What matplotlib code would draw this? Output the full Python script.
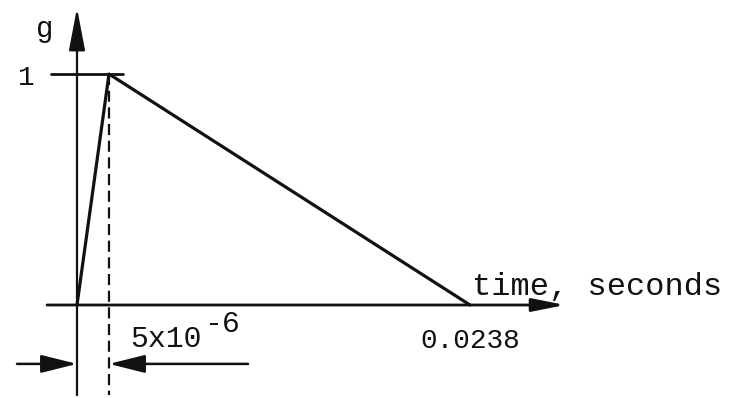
import matplotlib
matplotlib.use('Agg')

import numpy as np
import matplotlib.pyplot as plt

# acceleration pulse: linear rise to peak, linear decay to zero
times = [0.0, 5e-6, 0.0238]      # seconds
accel = [0.0, 1.0, 0.0]          # g
rise_label = ["5x10", "-6"]
end_label = "0.0238"
peak_label = "1"
y_label = "g"
x_label = "time, seconds"

T_RISE = times[1]
T_END = times[2]

# the rise is far too short to show to scale, so stretch it with a piecewise scale
RISE_W = 32.0
FALL_W = 361.0


def fwd(t):
    t = np.asarray(t, dtype=float)
    return np.where(t <= T_RISE, t / T_RISE * RISE_W,
                    RISE_W + (t - T_RISE) / (T_END - T_RISE) * FALL_W)


def inv(u):
    u = np.asarray(u, dtype=float)
    return np.where(u <= RISE_W, u / RISE_W * T_RISE,
                    T_RISE + (u - RISE_W) / FALL_W * (T_END - T_RISE))


def tx(u):
    return float(inv(u))


fig = plt.figure(figsize=(7.43, 3.98), dpi=100)
ax = fig.add_axes([0, 0, 1, 1])
ax.set_xscale('function', functions=(fwd, inv))
ax.set_xlim(tx(-77), tx(666))
ax.set_ylim(-93 / 231.0, 305 / 231.0)
ax.axis('off')

mono = 'Liberation Mono'
ink = '#111111'

# pulse
ax.plot(times, accel, color=ink, lw=2.3, solid_capstyle='round')

# axes with arrow heads
head = dict(arrowstyle='-|>,head_length=1.05,head_width=0.2', mutation_scale=25,
            color=ink, lw=1.6, shrinkA=0, shrinkB=0)
ax.annotate('', xy=(0, 1.286), xytext=(0, -0.39), arrowprops=head)
head_x = dict(arrowstyle='-|>,head_length=1.0,head_width=0.2', mutation_scale=20,
              color=ink, lw=2.0, shrinkA=0, shrinkB=0)
ax.annotate('', xy=(tx(488), 0), xytext=(tx(-30), 0), arrowprops=head_x)

# peak level tick
ax.plot([tx(-26), tx(46)], [accel[1], accel[1]], color=ink, lw=2.0,
        solid_capstyle='round')

# dashed marker at end of rise
ax.plot([times[1], times[1]], [accel[1], -0.39], color=ink, lw=1.6,
        dashes=(5, 2.5))

# rise time dimension arrows
y_dim = -0.255
dim = dict(arrowstyle='-|>,head_length=1.0,head_width=0.25', mutation_scale=22,
           color=ink, lw=1.8, shrinkA=0, shrinkB=0)
ax.annotate('', xy=(times[0], y_dim), xytext=(tx(-60), y_dim), arrowprops=dim)
ax.annotate('', xy=(times[1], y_dim), xytext=(tx(171), y_dim), arrowprops=dim)

# labels
ax.text(tx(-32), 1.16, y_label, family=mono, fontsize=21, color=ink,
        ha='center', va='baseline')
ax.text(tx(-51), 0.952, peak_label, family=mono, fontsize=20, color=ink,
        ha='center', va='baseline')
ax.text(tx(53), -0.182, rise_label[0], family=mono, fontsize=21.5, color=ink,
        ha='left', va='baseline')
ax.text(tx(127), -0.117, rise_label[1], family=mono, fontsize=21.5, color=ink,
        ha='left', va='baseline')
ax.text(times[2], -0.186, end_label, family=mono, fontsize=20, color=ink,
        ha='center', va='baseline')
ax.text(tx(395), 0.045, x_label, family=mono, fontsize=23, color=ink,
        ha='left', va='baseline')

fig.savefig('out.png', dpi=100)
plt.close('all')
